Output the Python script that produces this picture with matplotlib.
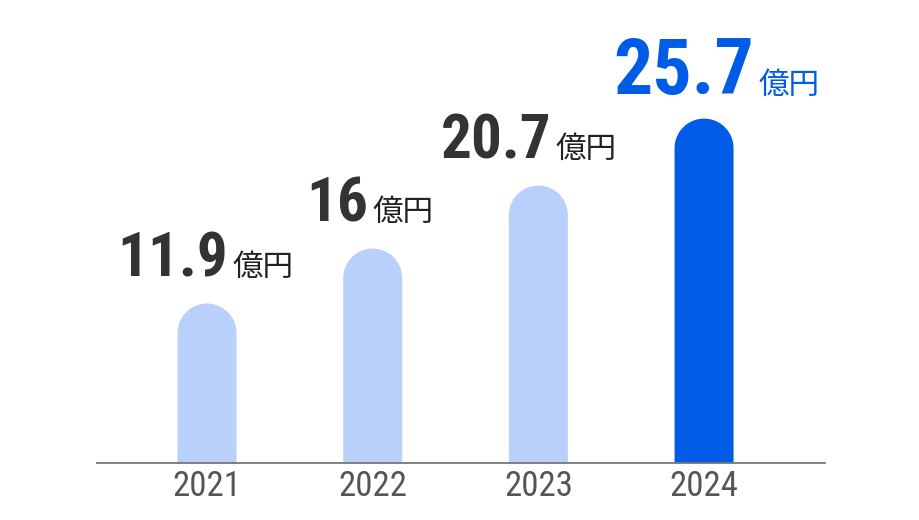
import matplotlib

matplotlib.use("Agg")
import matplotlib.pyplot as plt
from matplotlib import font_manager
from matplotlib.offsetbox import AnnotationBbox, HPacker, TextArea
import numpy as np

years = ["2021", "2022", "2023", "2024"]
values = [11.9, 16, 20.7, 25.7]
value_labels = ["11.9", "16", "20.7", "25.7"]
unit = "億円"

LIGHT = "#b8d0fb"
DARK = "#005ce6"

# small horizontal nudges of the value labels (points)
label_nudge = [-1, -2, -7, 9]


def pick(cands):
    names = {f.name for f in font_manager.fontManager.ttflist}
    for c in cands:
        if c in names:
            return c
    return "DejaVu Sans"


NUM_FONT = pick(["Roboto Condensed", "Liberation Sans Narrow", "DejaVu Sans Condensed", "Roboto"])
TICK_FONT = pick(["Roboto Condensed", "Liberation Sans Narrow", "Roboto"])
CJK = ["Noto Sans CJK JP", "DejaVu Sans"]


def rounded_bar(ax, x, h, w, color, px_per_unit):
    # rectangle with a semicircle cap; radius in pixels -> data units
    r_px = w * 165.67 / 2
    ry = r_px / px_per_unit
    t = np.linspace(0, np.pi, 60)
    xs = np.concatenate([[x - w / 2], x + (w / 2) * np.cos(t[::-1]), [x + w / 2]])
    ys = np.concatenate([[0], (h - ry) + ry * np.sin(t[::-1]), [0]])
    ax.fill(xs, ys, color=color, lw=0, zorder=2)


fig = plt.figure(figsize=(9.2, 5.2), dpi=100)
ax = fig.add_axes([97 / 920, 57 / 520, 728 / 920, 463 / 520])
ax.set_xlim(-0.664, 3.73)
ax.set_ylim(0, 463 / 13.4)

for i, v in enumerate(values):
    big = i == len(values) - 1
    rounded_bar(ax, i, v, 0.356, DARK if big else LIGHT, 13.4)

    num = TextArea(value_labels[i], textprops=dict(
        fontsize=56 if big else 44, fontweight="bold", family=[NUM_FONT],
        color=DARK if big else "#333333"))
    suf = TextArea(unit, textprops=dict(
        fontsize=22, family=CJK, color=DARK if big else "#222222"))
    pack = HPacker(children=[num, suf], align="baseline", pad=0, sep=3)
    ab = AnnotationBbox(pack, (i, v), xybox=(label_nudge[i], 6 if big else 11),
                        xycoords="data", boxcoords="offset points",
                        box_alignment=(0.5, 0), frameon=False, pad=0)
    ax.add_artist(ab)

for s in ["top", "right", "left"]:
    ax.spines[s].set_visible(False)
ax.spines["bottom"].set_color("#777777")
ax.spines["bottom"].set_linewidth(1.3)
ax.set_yticks([])
ax.set_xticks(range(len(years)))
ax.set_xticklabels(years, fontsize=25, color="#555555", family=[TICK_FONT])
ax.tick_params(axis="x", length=0, pad=5)

fig.savefig("out.png", dpi=100)
